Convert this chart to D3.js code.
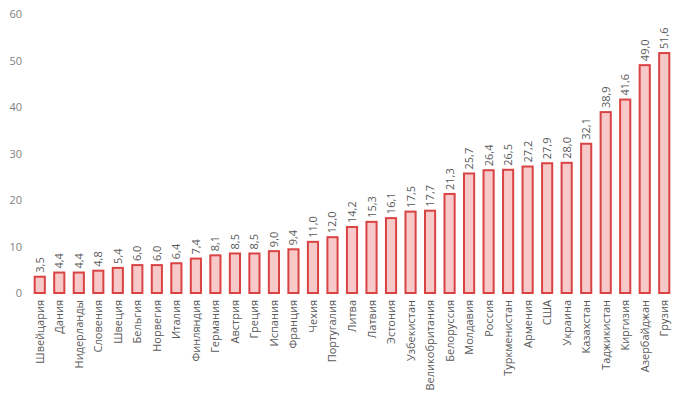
<!DOCTYPE html>
<html><head><meta charset="utf-8">
<script src="https://cdn.jsdelivr.net/npm/d3@7"></script>
<style>body{margin:0;background:#fff}</style>
</head><body><svg id="c" width="688" height="395"></svg>
<script>
const categories = ["Швейцария","Дания","Нидерланды","Словения","Швеция","Бельгия","Норвегия","Италия","Финляндия","Германия","Австрия","Греция","Испания","Франция","Чехия","Португалия","Литва","Латвия","Эстония","Узбекистан","Великобритания","Белоруссия","Молдавия","Россия","Туркменистан","Армения","США","Украина","Казахстан","Таджикистан","Киргизия","Азербайджан","Грузия"];
const values = [3.5,4.4,4.4,4.8,5.4,6.0,6.0,6.4,7.4,8.1,8.5,8.5,9.0,9.4,11.0,12.0,14.2,15.3,16.1,17.5,17.7,21.3,25.7,26.4,26.5,27.2,27.9,28.0,32.1,38.9,41.6,49.0,51.6];
const yTicks = [0,10,20,30,40,50,60];

const svg = d3.select("#c");
const font = "'Open Sans', 'Liberation Sans', sans-serif";
const x = d3.scaleBand().domain(categories).range([30, 674]).paddingInner(0.48).paddingOuter(0.24);
const y = d3.scaleLinear().domain([0, 60]).range([293, 14]);

const yAxis = svg.append("g").attr("transform","translate(28,0)")
  .call(d3.axisLeft(y).tickValues(yTicks).tickSize(0).tickPadding(6).tickFormat(d3.format("d")));
yAxis.select(".domain").remove();
yAxis.selectAll("text").attr("fill","#7f7f7f").style("font-family",font).style("font-size","11px");

svg.append("g").selectAll("rect").data(values).join("rect")
  .attr("x",(d,i)=>x(categories[i]))
  .attr("y",d=>y(d))
  .attr("width",x.bandwidth())
  .attr("height",d=>y(0)-y(d))
  .attr("fill","#f8c9c9").attr("stroke","#d94343").attr("stroke-width",2);

const fmt = d => d.toFixed(1).replace(".",",");
svg.append("g").selectAll("text").data(values).join("text")
  .attr("transform",(d,i)=>`translate(${x(categories[i])+x.bandwidth()/2+4},${y(d)-4}) rotate(-90)`)
  .attr("text-anchor","start")
  .attr("fill","#595959").style("font-family",font).style("font-size","11px")
  .text(fmt);

svg.append("g").selectAll("text").data(categories).join("text")
  .attr("transform",d=>`translate(${x(d)+x.bandwidth()/2+4},300) rotate(-90)`)
  .attr("text-anchor","end")
  .attr("fill","#595959").style("font-family",font).style("font-size","11px")
  .text(d=>d);
</script></body></html>
